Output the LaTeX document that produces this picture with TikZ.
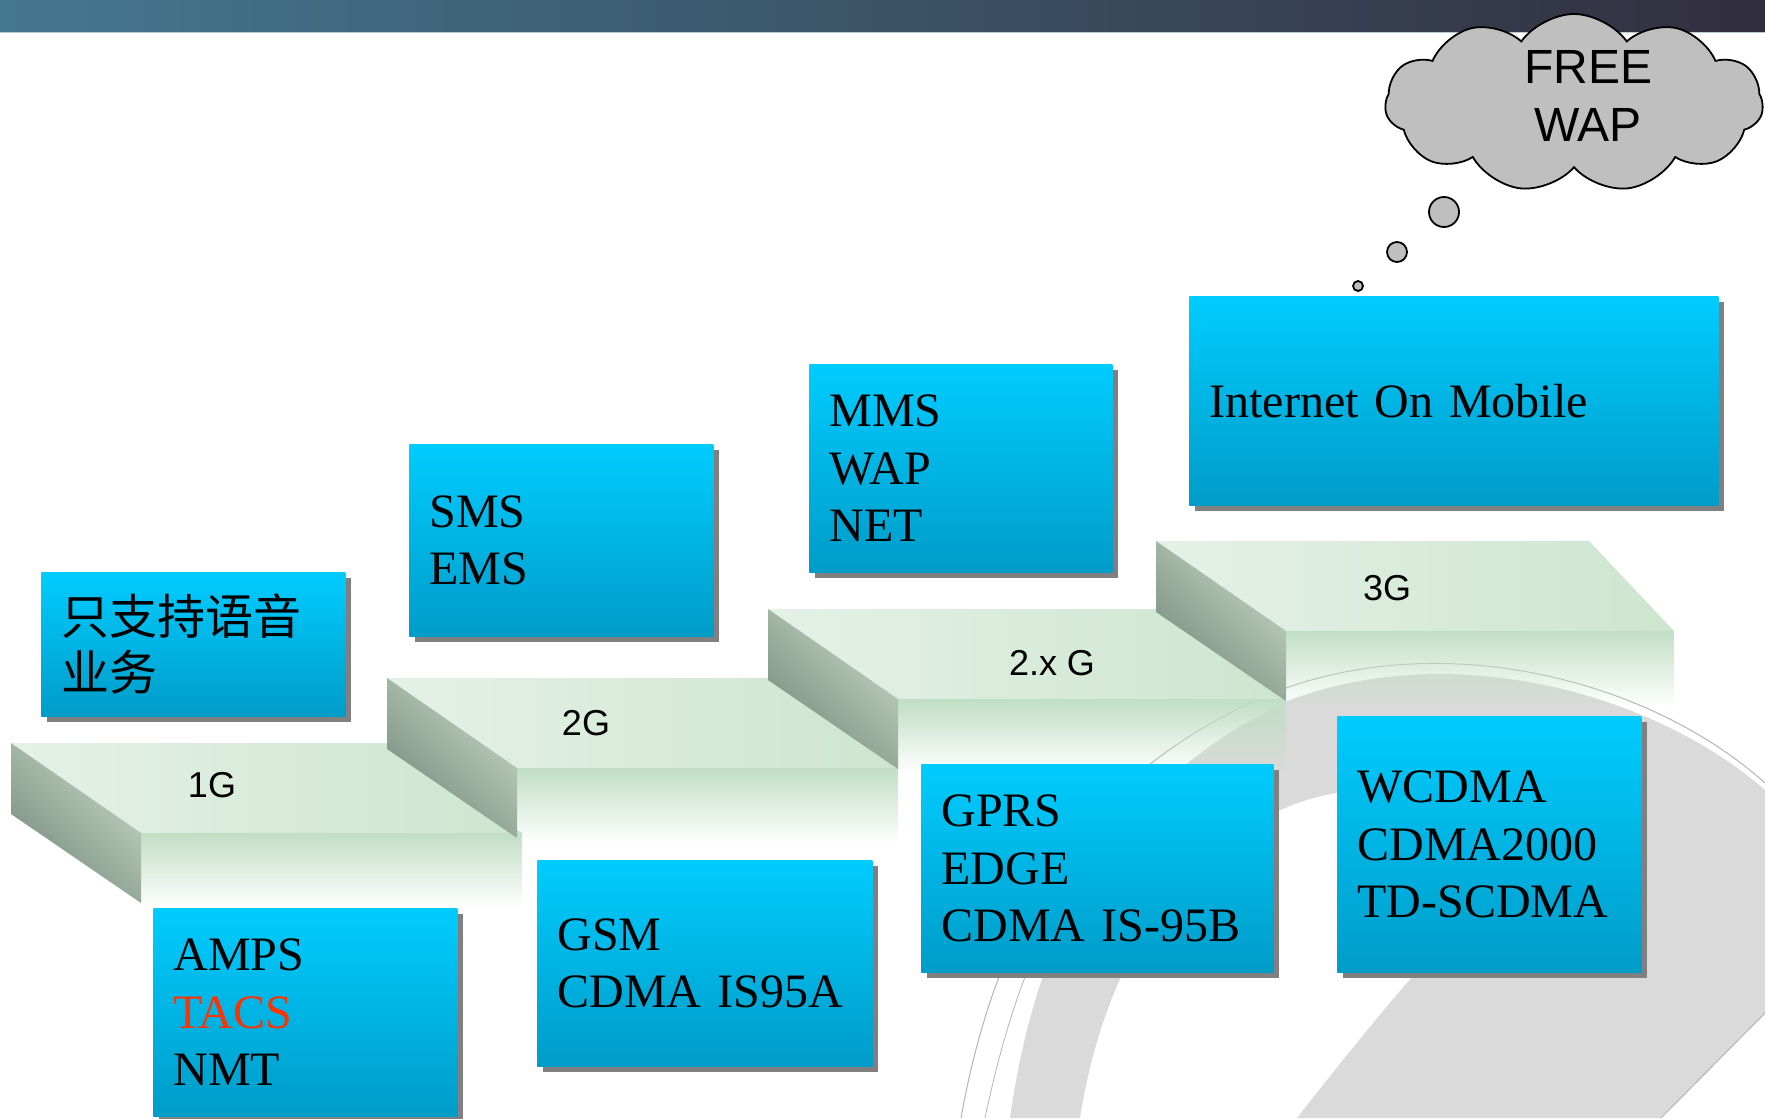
\documentclass[tikz,border=0pt]{standalone}
\usepackage{fontspec}
\setmainfont{Liberation Serif}
\newfontfamily\sansfont{Liberation Sans}
\newfontfamily\cjkfont{Noto Sans CJK SC}
\usepackage{tikz}
\usetikzlibrary{shapes.symbols,shadows,fadings}

\definecolor{boxtop}{RGB}{0,204,255}
\definecolor{boxbot}{RGB}{0,156,200}
\definecolor{tacsred}{RGB}{255,51,0}
\definecolor{topleft}{RGB}{229,241,231}
\definecolor{topright}{RGB}{205,229,207}
\definecolor{frontgreen}{RGB}{193,222,196}
\definecolor{sidedark}{RGB}{118,138,124}
\definecolor{sidelight}{RGB}{196,215,197}
\definecolor{barleft}{RGB}{68,120,144}
\definecolor{barmid}{RGB}{30,30,30}
\definecolor{barright}{RGB}{50,46,62}
\definecolor{swoosh}{RGB}{218,218,218}
\definecolor{swooshline}{RGB}{180,180,180}

\newcommand\boxfont{\fontsize{24}{28.75}\selectfont\spaceskip 4.5pt\relax}

\tikzset{
  infobox/.style={anchor=north west, top color=boxtop, bottom color=boxbot,
    align=left, inner xsep=10pt, inner ysep=0pt, font=\boxfont,
    drop shadow={shadow xshift=3pt, shadow yshift=-3pt, fill=black!50, opacity=1}},
  steplabel/.style={font=\sansfont\fontsize{18}{20}\selectfont},
  bubble/.style={circle, draw, line width=0.9pt, fill=gray!50, inner sep=0pt},
}

\begin{document}
\begin{tikzpicture}[x=0.5pt, y=-0.5pt]
  \useasboundingbox (0,0) rectangle (1765,1118);

  \fill[swoosh] (1010,1118) .. controls (1040,905) and (1130,775) .. (1290,700)
    .. controls (1450,640) and (1650,690) .. (1765,790) -- (1765,1013) -- (1661,1118)
    -- (1297,1118) .. controls (1350,1050) and (1400,990) .. (1413,976)
    .. controls (1460,900) and (1420,790) .. (1360,790)
    .. controls (1330,792) and (1305,800) .. (1290,806)
    .. controls (1180,850) and (1105,960) .. (1080,1118) -- cycle;
  \draw[swooshline, line width=0.5pt] (961,1118) .. controls (1000,900) and (1100,760) .. (1286,688)
    .. controls (1450,630) and (1650,680) .. (1765,783);
  \draw[swooshline, line width=0.4pt] (985,1118) .. controls (1010,1000) and (1040,930) .. (1080,870);
  \draw[swooshline, line width=0.5pt] (1661,1118) -- (1765,1013);

  \shade[left color=barleft, middle color=barmid, right color=barright] (0,0) rectangle (1765,32);
  \draw[barleft!40!white, line width=0.6pt] (0,32.5) -- (1765,32.5);

  \foreach \bx/\by/\brx/\frx/\lx/\ly/\txt [count=\i] in
    {11/743/393/522/212/785/1G, 387/678/769/898/586/723/2G,
     768/609/1157/1286/1052/663/2.x G, 1156/541/1589/1674/1387/588/3G}
  {
    \shade[left color=topleft, right color=topright]
      (\bx,\by) -- (\brx,\by) -- (\frx,\by+90) -- (\bx+130,\by+90) -- cycle;
    \fill[frontgreen, path fading=south] (\bx+130,\by+90) rectangle (\frx,\by+165);
    \shade[left color=sidedark, right color=sidelight, shading angle=135]
      (\bx,\by) -- (\bx+130,\by+90) -- (\bx+130,\by+160) -- (\bx,\by+71) -- cycle;
    \node[steplabel] (gen\i) at (\lx,\ly) {\txt};
  }

  \node[infobox, text width=132pt, minimum height=72pt, font=\cjkfont\fontsize{24}{28}\selectfont]
    (voice) at (41,572) {只支持语音\\业务};
  \node[infobox, text width=132pt, minimum height=104pt] (amps) at (153,908)
    {AMPS\\\textcolor{tacsred}{TACS}\\NMT};
  \node[infobox, text width=132pt, minimum height=96pt] (sms) at (409,444) {SMS\\EMS};
  \node[infobox, text width=131.5pt, minimum height=104pt] (mms) at (809,364) {MMS\\WAP\\NET};
  \node[infobox, text width=244.5pt, minimum height=104.5pt] (internet) at (1189,296) {Internet On Mobile};
  \node[infobox, text width=147.5pt, minimum height=103pt] (gsm) at (537,860) {GSM\\CDMA IS95A};
  \node[infobox, text width=156pt, minimum height=104pt] (gprs) at (921,764) {GPRS\\EDGE\\CDMA IS-95B};
  \node[infobox, text width=132pt, minimum height=128pt] (wcdma) at (1337,716) {WCDMA\\CDMA2000\\TD-SCDMA};

  \node[cloud, cloud puffs=11, cloud puff arc=110, aspect=2.1, draw, line width=0.9pt,
    fill=gray!50, minimum width=189pt, minimum height=89pt] (thought) at (1574,103) {};
  \node[font=\sansfont\fontsize{24}{29}\selectfont, align=center] (freewap) at (1588,96) {FREE\\WAP};
  \node[bubble, minimum size=15pt] (bubbig) at (1444,212) {};
  \node[bubble, minimum size=10pt] (bubmid) at (1397,252) {};
  \node[bubble, minimum size=5pt] (bubsmall) at (1358,286) {};
\end{tikzpicture}
\end{document}
